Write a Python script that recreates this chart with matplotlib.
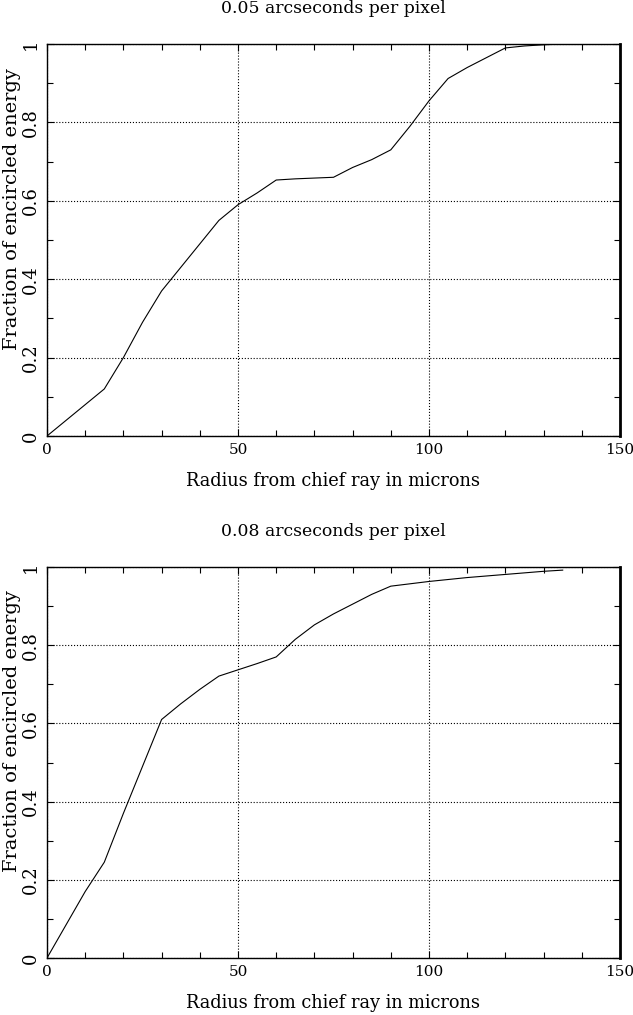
import numpy as np
import matplotlib
matplotlib.use("Agg")
import matplotlib.pyplot as plt
from matplotlib.ticker import MultipleLocator

# радиус в микронах
radius = [0, 5, 10, 15, 20, 25, 30, 35, 40, 45, 50, 55, 60, 65,
          70, 75, 80, 85, 90, 95, 100, 105, 110, 115, 120, 125, 130, 135]

# доля энергии, 0.05"/pix
ee_005 = [0, 0.04, 0.08, 0.12, 0.2, 0.29, 0.37, 0.43, 0.49, 0.55, 0.59, 0.62,
          0.653, 0.656, 0.658, 0.66, 0.685, 0.705, 0.73, 0.79, 0.855, 0.912,
          0.94, 0.965, 0.99, 0.995, 0.998, 1.0]

# доля энергии, 0.08"/pix
ee_008 = [0, 0.085, 0.17, 0.245, 0.37, 0.49, 0.61, 0.65, 0.687, 0.721, 0.737,
          0.753, 0.77, 0.815, 0.852, 0.88, 0.905, 0.93, 0.951, 0.957, 0.963,
          0.968, 0.973, 0.977, 0.981, 0.985, 0.989, 0.992]

titles = ["0.05 arcseconds per pixel", "0.08 arcseconds per pixel"]
xlabel = "Radius from chief ray in microns"
ylabel = "Fraction of encircled energy"
xticks = [0, 50, 100, 150]
yticks = [0, 0.2, 0.4, 0.6, 0.8, 1.0]
yticklabels = ['0', '0.2', '0.4', '0.6', '0.8', '1']

plt.rcParams['font.family'] = ['DejaVu Serif']

fig = plt.figure(figsize=(6.33, 10.15), dpi=100)
W, H = 633, 1015
boxes = [(47, 44, 620, 436), (47, 567, 620, 958)]

for (x0, y0, x1, y1), ee, title in zip(boxes, [ee_005, ee_008], titles):
    ax = fig.add_axes([x0 / W, 1 - y1 / H, (x1 - x0) / W, (y1 - y0) / H])
    ax.plot(radius, ee, color='black', lw=0.8)
    ax.set_xlim(0, 150)
    ax.set_ylim(0, 1)
    ax.xaxis.set_minor_locator(MultipleLocator(10))
    ax.yaxis.set_minor_locator(MultipleLocator(0.1))
    ax.set_yticks(yticks)
    ax.set_yticklabels(yticklabels, rotation=90, va='center', fontsize=13)
    ax.set_xticks(xticks)
    ax.set_xticklabels([str(t) for t in xticks], fontsize=11)
    ax.tick_params(which='both', direction='in', top=True, right=True)
    ax.tick_params(which='major', length=5, width=0.8, pad=5)
    ax.tick_params(which='minor', length=4, width=0.8)
    ax.grid(True, which='major', color='black', linestyle=':', linewidth=0.8)
    for s in ax.spines.values():
        s.set_linewidth(1.0)
    ax.spines['right'].set_linewidth(2.0)
    ax.set_title(title, fontsize=12.4, pad=22)
    ax.set_xlabel(xlabel, fontsize=12.8, labelpad=11)
    ax.set_ylabel(ylabel, fontsize=14)
    ax.yaxis.set_label_coords(-0.045, 0.58)

plt.savefig("out.png", dpi=100)
